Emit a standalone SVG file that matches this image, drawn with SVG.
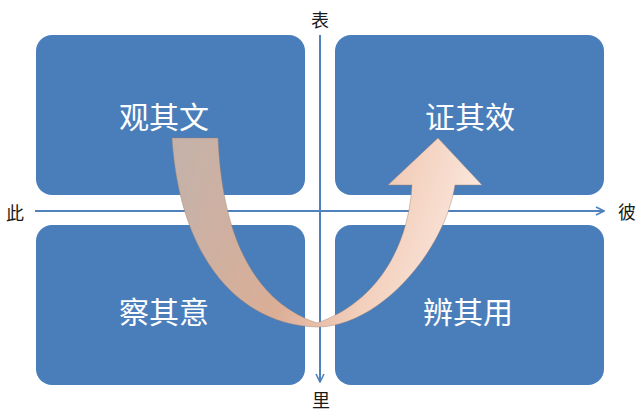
<svg xmlns="http://www.w3.org/2000/svg" width="640" height="415" viewBox="0 0 640 415">
<style>
.box{fill:#4a7ebb;}
.bt{fill:#ffffff;font-family:"Noto Sans CJK SC","Noto Sans",sans-serif;font-size:30px;text-anchor:middle;dominant-baseline:central;}
.lab{fill:#1a1a1a;font-family:"Noto Sans CJK SC","Noto Sans",sans-serif;font-size:18px;text-anchor:middle;dominant-baseline:central;}
.axis{stroke:#4f81bd;stroke-width:2;fill:none;}
</style>
<defs>
<marker id="chev" viewBox="0 0 10 10" refX="9" refY="5" markerWidth="5" markerHeight="5" orient="auto" markerUnits="strokeWidth">
<path d="M1,1 L9,5 L1,9" fill="none" stroke="#4f81bd" stroke-width="1.6"/>
</marker>
<linearGradient id="ag" gradientUnits="userSpaceOnUse" x1="172" y1="160" x2="482" y2="260">
<stop offset="0" stop-color="#c4b2aa"/>
<stop offset="0.45" stop-color="#dbae96"/>
<stop offset="0.7" stop-color="#f3d0bd"/>
<stop offset="1" stop-color="#fdeee6"/>
</linearGradient>
</defs>
<rect width="640" height="415" fill="#ffffff"/>
<g id="node-guanqiwen"><rect class="box" x="36" y="35" width="269" height="160" rx="16"/><text class="bt" x="164" y="115">观其文</text></g>
<g id="node-zhengqixiao"><rect class="box" x="335" y="35" width="269" height="160" rx="16"/><text class="bt" x="470" y="115">证其效</text></g>
<g id="node-chaqiyi"><rect class="box" x="36" y="225" width="269" height="160" rx="16"/><text class="bt" x="164" y="310">察其意</text></g>
<g id="node-bianqiyong"><rect class="box" x="335" y="225" width="269" height="160" rx="16"/><text class="bt" x="468" y="310">辨其用</text></g>
<g id="connectors">
<line class="axis" x1="35" y1="211" x2="604" y2="211" marker-end="url(#chev)"/>
<line class="axis" x1="320" y1="35" x2="320" y2="382" marker-end="url(#chev)"/>
<path d="M172,138 L218,138 C222,230 250,300 317,323 C370,305 408,255 412,185 L388,185 L438,138 L482,185 L455,185 C445,250 380,327 317,327 C240,325 180,260 172,138 Z" fill="url(#ag)" stroke="#9c8070" stroke-opacity="0.55" stroke-width="0.8"/>
</g>
<g id="labels">
<text class="lab" x="320" y="19">表</text>
<text class="lab" x="321" y="399">里</text>
<text class="lab" x="15" y="212">此</text>
<text class="lab" x="627" y="211">彼</text>
</g>
</svg>
